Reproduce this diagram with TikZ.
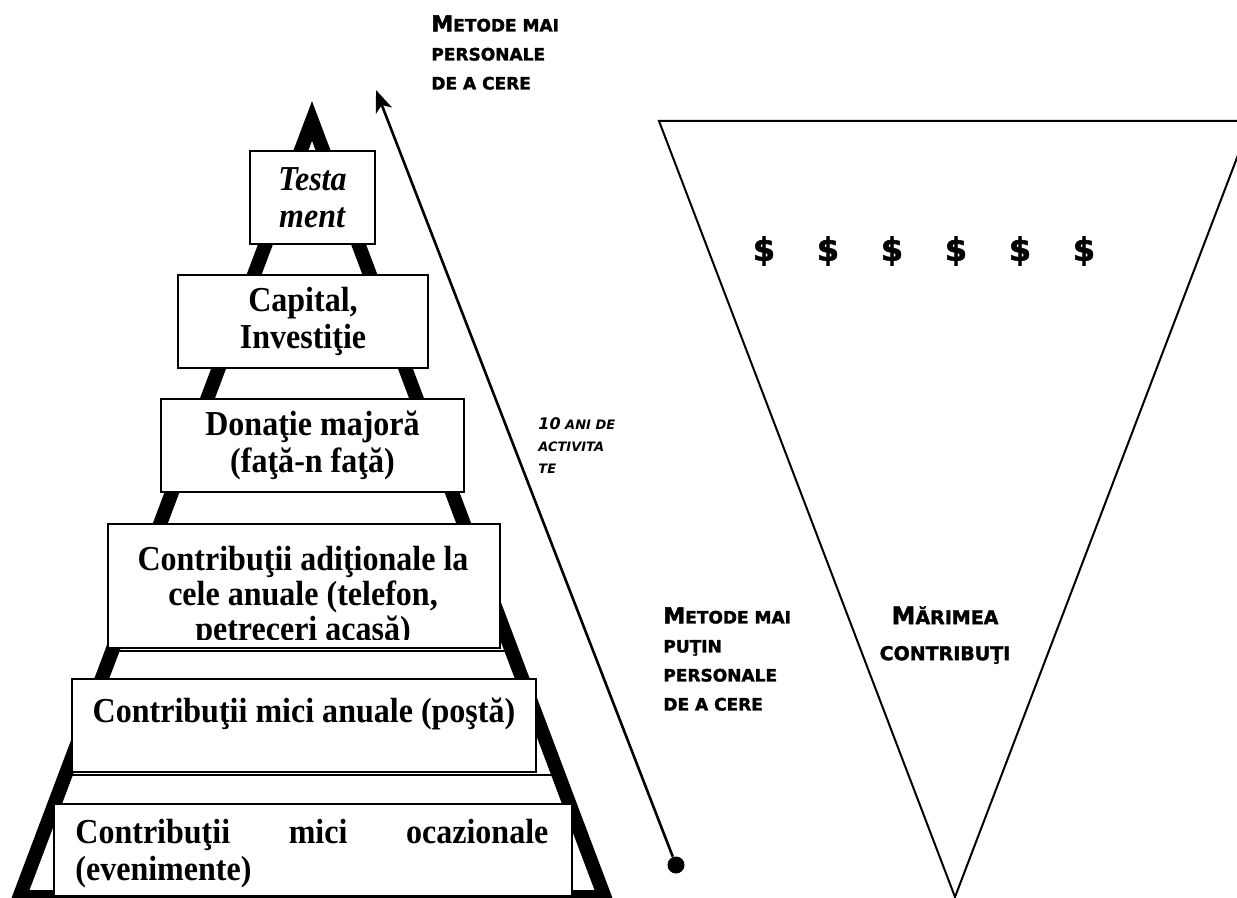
\documentclass[tikz,border=0pt]{standalone}
\usepackage{fontspec}
\setmainfont{Liberation Serif}[FakeStretch=0.915]
\newfontfamily\capsfont{DejaVu Sans}[BoldFeatures={FakeBold=1.8}]
\usetikzlibrary{arrows.meta,calc}

\newcommand{\smc}[2][8.5]{{\fontsize{#1}{\the\baselineskip}\selectfont #2}}
\newcommand{\tierfont}{\bfseries\fontsize{17.5}{18.5}\selectfont}

\tikzset{
  tier/.style={draw, line width=1pt, fill=white, inner sep=0pt, align=center, font=\tierfont},
  tiertext/.style={inner sep=0pt, font=\tierfont},
  note/.style={inner sep=0pt, align=left, font=\capsfont\bfseries\fontsize{11}{14.5}\selectfont},
  dollar/.style={inner sep=0pt, font=\capsfont\bfseries\fontsize{16}{16}\selectfont},
}

\begin{document}
\begin{tikzpicture}[x=0.5pt, y=-0.5pt]
  \useasboundingbox (0,0) rectangle (1237,898);

  \coordinate (apex) at (312,121);
  \coordinate (bl) at (19.4,897);
  \coordinate (br) at (604.6,897);
  \draw[line width=1pt] ($(apex)!0.683!(bl)$) -- ($(apex)!0.683!(br)$);
  \draw[line width=1pt] ($(apex)!0.843!(bl)$) -- ($(apex)!0.843!(br)$);
  \draw[line width=7pt, line join=miter] (apex) -- (br) -- (bl) -- cycle;

  \node[tier, minimum width=62.5pt, minimum height=46.5pt] (testament) at (312.5,197.5) {\textit{Testa}\\\textit{ment}};
  \node[tier, minimum width=125pt, minimum height=46.5pt] (capital) at (303,321.5) {Capital,\\Investiţie};
  \node[tier, minimum width=151.5pt, minimum height=46.5pt] (majora) at (312.5,445.5) {Donaţie majoră\\(faţă-n faţă)};
  \node[tier, minimum width=196pt, minimum height=62pt] (aditionale) at (304,585.5) {};
  \begin{scope}
    \clip (aditionale.north west) rectangle (500,639);
    \node[tiertext, align=center, anchor=north, font=\bfseries\fontsize{17.5}{17.5}\selectfont] (aditext) at (303,546) {Contribuţii adiţionale la\\cele anuale (telefon,\\petreceri acasă)};
  \end{scope}
  \node[tier, minimum width=232pt, minimum height=46.5pt] (anuale) at (304,725.5) {};
  \node[tiertext, anchor=base] (anualetext) at (304,722) {Contribuţii mici anuale (poştă)};
  \node[tier, minimum width=259pt, minimum height=46pt] (ocazionale) at (313,850) {};
  \node[tiertext, align=left, anchor=north west] (ocaztext) at (75,819) {\makebox[236.5pt][s]{Contribuţii mici ocazionale}\\(evenimente)};

  \node[circle, fill, inner sep=0pt, minimum size=8.5pt] (low) at (676,865) {};
  \coordinate (high) at (376,90);
  \draw[line width=1.3pt, -{Stealth[length=11pt, width=8.5pt, inset=3pt]}] (low) -- (high);

  \node[note, anchor=north west] (personal) at (431,15) {M\smc{ETODE MAI}\\\smc{PERSONALE}\\\smc{DE A CERE}};
  \node[note, anchor=north west, font=\capsfont\bfseries\itshape\fontsize{8}{11}\selectfont] (ani) at (538,417) {10\smc[6.5]{ ANI DE}\\\smc[6.5]{ACTIVITA}\\\smc[6.5]{TE}};
  \node[note, anchor=north west] (impersonal) at (663,607) {M\smc{ETODE MAI}\\\smc{PUŢIN}\\\smc{PERSONALE}\\\smc{DE A CERE}};

  \coordinate (fl) at (659,121);
  \coordinate (fr) at (1251,121);
  \coordinate (fb) at (955,897);
  \draw[line width=1pt] (fl) -- (fr) -- (fb) -- cycle;
  \foreach \i in {0,...,5}
    \node[dollar] (d\i) at (764+64*\i,251) {\$};
  \node[note, align=center, anchor=north, font=\capsfont\bfseries\fontsize{12}{18}\selectfont] (marime) at (945,606) {M\smc[9.5]{ĂRIMEA}\\\smc[9.5]{CONTRIBUŢI}};
\end{tikzpicture}
\end{document}
